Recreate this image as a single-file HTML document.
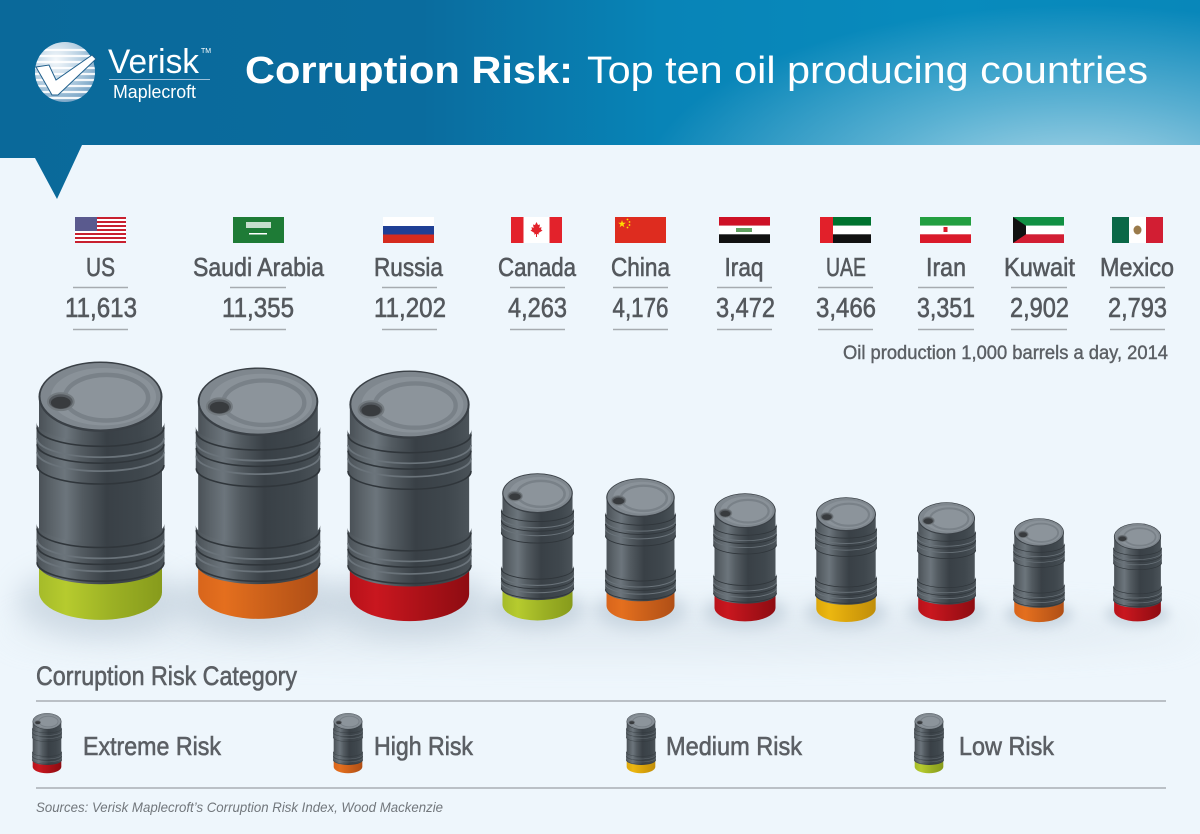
<!DOCTYPE html>
<html><head><meta charset="utf-8"><style>
html,body{margin:0;padding:0;background:#eef6fc;}
svg{display:block;}
text{font-family:"Liberation Sans",Arial,sans-serif;}
</style></head><body>
<svg width="1200" height="834" viewBox="0 0 1200 834" xmlns="http://www.w3.org/2000/svg">
<defs>
<linearGradient id="hdr" x1="0" y1="0" x2="1" y2="0">
<stop offset="0" stop-color="#0a699a"/><stop offset="0.35" stop-color="#0a6c9e"/><stop offset="0.55" stop-color="#0884b7"/><stop offset="0.8" stop-color="#088bbd"/><stop offset="1" stop-color="#0887ba"/>
</linearGradient>
<radialGradient id="hdrGlow" cx="1080" cy="190" r="440" gradientUnits="userSpaceOnUse" gradientTransform="translate(1080 190) scale(1 0.42) translate(-1080 -190)">
<stop offset="0" stop-color="#ffffff" stop-opacity="0.7"/><stop offset="0.5" stop-color="#ffffff" stop-opacity="0.33"/><stop offset="1" stop-color="#ffffff" stop-opacity="0"/>
</radialGradient>
<radialGradient id="globe" cx="0.35" cy="0.3" r="0.8">
<stop offset="0" stop-color="#f4f8fb"/><stop offset="0.5" stop-color="#b9d1e3"/><stop offset="1" stop-color="#6f9ec2"/>
</radialGradient>
<clipPath id="gclip"><circle cx="65" cy="72" r="30"/></clipPath>
<linearGradient id="gB" x1="0" y1="0" x2="1" y2="0">
<stop offset="0" stop-color="#4a5157"/><stop offset="0.1" stop-color="#5b6369"/><stop offset="0.22" stop-color="#6c757c"/><stop offset="0.35" stop-color="#535b61"/><stop offset="0.55" stop-color="#394046"/><stop offset="0.82" stop-color="#3f474d"/><stop offset="1" stop-color="#4b5359"/>
</linearGradient>
<linearGradient id="gGreen" x1="0" y1="0" x2="1" y2="0">
<stop offset="0" stop-color="#a5bb2a"/><stop offset="0.22" stop-color="#b6cb2e"/><stop offset="0.6" stop-color="#9bb024"/><stop offset="1" stop-color="#879b1c"/>
</linearGradient>
<linearGradient id="gOrange" x1="0" y1="0" x2="1" y2="0">
<stop offset="0" stop-color="#d8651c"/><stop offset="0.22" stop-color="#e46f1e"/><stop offset="0.6" stop-color="#c95f1a"/><stop offset="1" stop-color="#b04f16"/>
</linearGradient>
<linearGradient id="gRed" x1="0" y1="0" x2="1" y2="0">
<stop offset="0" stop-color="#b8121a"/><stop offset="0.22" stop-color="#c9171f"/><stop offset="0.6" stop-color="#ab1118"/><stop offset="1" stop-color="#8e0c12"/>
</linearGradient>
<linearGradient id="gYellow" x1="0" y1="0" x2="1" y2="0">
<stop offset="0" stop-color="#dca70c"/><stop offset="0.22" stop-color="#ecb710"/><stop offset="0.6" stop-color="#d7a10b"/><stop offset="1" stop-color="#c08e0a"/>
</linearGradient>
<filter id="blur" x="-60%" y="-100%" width="220%" height="300%"><feGaussianBlur stdDeviation="14"/></filter>
<filter id="blurBig" x="-20%" y="-200%" width="140%" height="500%"><feGaussianBlur stdDeviation="18"/></filter>

<g id="shadow"><ellipse cx="0" cy="242" rx="85" ry="34" fill="#9fb1c1" opacity="0.38" filter="url(#blur)"/></g>

<g id="body">
<path d="M-62,36 L-62,206 A62,19 0 0 0 62,206 L62,36 Z" fill="url(#gB)"/>
<path d="M-64.5,62 A64.5,19 0 0 0 64.5,62 L64.5,106 A64.5,19 0 0 1 -64.5,106 Z" fill="url(#gB)"/>
<path d="M-64.5,164 A64.5,19 0 0 0 64.5,164 L64.5,204 A64.5,19 0 0 1 -64.5,204 Z" fill="url(#gB)"/>
<g fill="none" stroke="#6a737a" stroke-width="1.8">
<path d="M-64,78 A64,19 0 0 0 64,78"/><path d="M-64,92 A64,19 0 0 0 64,92"/>
<path d="M-64,180 A64,19 0 0 0 64,180"/><path d="M-64,193 A64,19 0 0 0 64,193"/>
</g>
<g fill="none" stroke="#30363b" stroke-width="1.6">
<path d="M-64,67 A64,19 0 0 0 64,67"/><path d="M-64,84 A64,19 0 0 0 64,84"/><path d="M-64,105 A64,19 0 0 0 64,105"/>
<path d="M-64,169 A64,19 0 0 0 64,169"/><path d="M-64,186 A64,19 0 0 0 64,186"/><path d="M-64,203 A64,19 0 0 0 64,203"/>
</g>
<ellipse cx="0" cy="36" rx="62.5" ry="35.5" fill="#3a4046"/>
<ellipse cx="0" cy="35.5" rx="60.5" ry="33.5" fill="#7f878e"/>
<ellipse cx="3" cy="36" rx="53" ry="29" fill="#8a9299"/>
<ellipse cx="6" cy="37" rx="42" ry="23" fill="#8c949b" stroke="#798188" stroke-width="4.5"/>
<ellipse cx="-40" cy="41" rx="13" ry="8.5" fill="#555a5f" stroke="#737a7f" stroke-width="2"/>
<ellipse cx="-40" cy="42" rx="10" ry="6" fill="#383b3e"/>
</g>
<g id="bRed"><path d="M-62,196 L-62,233 A62,28 0 0 0 62,233 L62,196 Z" fill="url(#gRed)"/><use href="#body"/></g>
<g id="bGreen"><path d="M-62,196 L-62,233 A62,28 0 0 0 62,233 L62,196 Z" fill="url(#gGreen)"/><use href="#body"/></g>
<g id="bOrange"><path d="M-62,196 L-62,233 A62,28 0 0 0 62,233 L62,196 Z" fill="url(#gOrange)"/><use href="#body"/></g>
<g id="bYellow"><path d="M-62,196 L-62,233 A62,28 0 0 0 62,233 L62,196 Z" fill="url(#gYellow)"/><use href="#body"/></g>
</defs>

<!-- background -->
<rect width="1200" height="834" fill="#eef6fc"/>
<ellipse cx="600" cy="630" rx="600" ry="24" fill="#c8d4de" opacity="0.35" filter="url(#blurBig)"/>

<!-- header -->
<polygon points="0,0 1200,0 1200,145 82,145 57,199 35,158 0,158" fill="url(#hdr)"/>
<polygon points="0,0 1200,0 1200,145 82,145 57,199 35,158 0,158" fill="url(#hdrGlow)"/>

<!-- logo -->
<circle cx="65" cy="72" r="30" fill="url(#globe)"/>
<g clip-path="url(#gclip)" stroke="#ffffff" stroke-width="2.2" opacity="0.9">
<line x1="30" y1="50" x2="100" y2="50"/><line x1="30" y1="56" x2="100" y2="56"/><line x1="30" y1="62" x2="100" y2="62"/><line x1="30" y1="68" x2="100" y2="68"/><line x1="30" y1="74" x2="100" y2="74"/><line x1="30" y1="80" x2="100" y2="80"/><line x1="30" y1="86" x2="100" y2="86"/><line x1="30" y1="92" x2="100" y2="92"/><line x1="30" y1="98" x2="100" y2="98"/>
</g>
<polygon points="36,67 49,65 56,80 92,55 96,59 58,95 52,95" fill="#ffffff" stroke="#1f5f8c" stroke-width="1"/>
<text x="108" y="73" font-size="34" fill="#ffffff" textLength="91" lengthAdjust="spacingAndGlyphs">Verisk</text>
<text x="201" y="53" font-size="7" fill="#ffffff">TM</text>
<line x1="109" y1="79.5" x2="210" y2="79.5" stroke="#9cc0da" stroke-width="1"/>
<text x="113" y="98" font-size="18" fill="#ffffff" textLength="83" lengthAdjust="spacingAndGlyphs">Maplecroft</text>

<!-- title -->
<text x="245" y="83" font-size="38" font-weight="bold" fill="#ffffff" textLength="328" lengthAdjust="spacingAndGlyphs">Corruption Risk:</text>
<text x="587" y="83" font-size="38" fill="#ffffff" textLength="561" lengthAdjust="spacingAndGlyphs">Top ten oil producing countries</text>

<!-- flags -->
<g>
<rect x="75" y="217" width="51" height="26" fill="#ffffff"/>
<g fill="#c8202f">
<rect x="75" y="217" width="51" height="2"/><rect x="75" y="221" width="51" height="2"/><rect x="75" y="225" width="51" height="2"/><rect x="75" y="229" width="51" height="2"/><rect x="75" y="233" width="51" height="2"/><rect x="75" y="237" width="51" height="2"/><rect x="75" y="241" width="51" height="2"/>
</g>
<rect x="75" y="217" width="22" height="14" fill="#5a5a8e"/>
</g>
<rect x="233" y="217" width="51" height="26" fill="#1e7b36"/>
<rect x="246" y="222" width="25" height="6" fill="#ffffff" opacity="0.75"/>
<rect x="249" y="233" width="18" height="1.5" fill="#ffffff"/>
<rect x="383" y="217" width="51" height="9" fill="#ffffff"/>
<rect x="383" y="226" width="51" height="8.5" fill="#1f3f95"/>
<rect x="383" y="234.5" width="51" height="8.5" fill="#d52b1e"/>
<rect x="511" y="217" width="51" height="26" fill="#ffffff"/>
<rect x="511" y="217" width="12.5" height="26" fill="#e3222b"/>
<rect x="549.5" y="217" width="12.5" height="26" fill="#e3222b"/>
<polygon points="536.5,222 538,225 540,224.5 539.3,228 541.5,227 541,229.5 542.5,230.5 538.5,233 539,234.5 537,234 537,237 536,237 536,234 534,234.5 534.5,233 530.5,230.5 532,229.5 531.5,227 533.7,228 533,224.5 535,225" fill="#e3222b"/>
<rect x="615" y="217" width="51" height="26" fill="#de2c1f"/>
<polygon points="622,220 622.9,222.76 625.8,222.76 623.46,224.47 624.35,227.24 622,225.53 619.65,227.24 620.54,224.47 618.2,222.76 621.1,222.76" fill="#ffde00"/>
<g fill="#ffde00"><circle cx="627.5" cy="219.5" r="0.9"/><circle cx="629.5" cy="222" r="0.9"/><circle cx="629.5" cy="225" r="0.9"/><circle cx="627.5" cy="227.5" r="0.9"/></g>
<rect x="719" y="217" width="51" height="8.7" fill="#ce1126"/>
<rect x="719" y="225.7" width="51" height="8.6" fill="#ffffff"/>
<rect x="719" y="234.3" width="51" height="8.7" fill="#111111"/>
<rect x="736" y="228" width="16" height="4" fill="#3a8a3a" opacity="0.8"/>
<rect x="820" y="217" width="51" height="8.7" fill="#00732f"/>
<rect x="820" y="225.7" width="51" height="8.6" fill="#ffffff"/>
<rect x="820" y="234.3" width="51" height="8.7" fill="#111111"/>
<rect x="820" y="217" width="13" height="26" fill="#e2202a"/>
<rect x="920" y="217" width="51" height="8.7" fill="#239f40"/>
<rect x="920" y="225.7" width="51" height="8.6" fill="#ffffff"/>
<rect x="920" y="234.3" width="51" height="8.7" fill="#da1a2a"/>
<rect x="943.5" y="227" width="4" height="5" fill="#da1a2a"/>
<rect x="1013" y="217" width="51" height="8.7" fill="#119043"/>
<rect x="1013" y="225.7" width="51" height="8.6" fill="#ffffff"/>
<rect x="1013" y="234.3" width="51" height="8.7" fill="#d21e33"/>
<polygon points="1013,217 1026,225.7 1026,234.3 1013,243" fill="#111111"/>
<rect x="1112" y="217" width="17" height="26" fill="#0a6847"/>
<rect x="1129" y="217" width="17" height="26" fill="#ffffff"/>
<rect x="1146" y="217" width="17" height="26" fill="#d21e33"/>
<ellipse cx="1137.5" cy="230" rx="4" ry="4.5" fill="#9a7a4a"/>

<!-- names -->
<g font-size="26" fill="#54585d" stroke="#54585d" stroke-width="0.6" text-anchor="middle">
<text x="100.5" y="276" textLength="29" lengthAdjust="spacingAndGlyphs">US</text>
<text x="258.5" y="276" textLength="131" lengthAdjust="spacingAndGlyphs">Saudi Arabia</text>
<text x="408.5" y="276" textLength="69" lengthAdjust="spacingAndGlyphs">Russia</text>
<text x="537" y="276" textLength="78" lengthAdjust="spacingAndGlyphs">Canada</text>
<text x="640.5" y="276" textLength="59" lengthAdjust="spacingAndGlyphs">China</text>
<text x="744" y="276" textLength="39" lengthAdjust="spacingAndGlyphs">Iraq</text>
<text x="846" y="276" textLength="40" lengthAdjust="spacingAndGlyphs">UAE</text>
<text x="946" y="276" textLength="40" lengthAdjust="spacingAndGlyphs">Iran</text>
<text x="1039.5" y="276" textLength="71" lengthAdjust="spacingAndGlyphs">Kuwait</text>
<text x="1137" y="276" textLength="74" lengthAdjust="spacingAndGlyphs">Mexico</text>
</g>
<!-- numbers -->
<g font-size="28" fill="#54585d" stroke="#54585d" stroke-width="0.6" text-anchor="middle">
<text x="101" y="317" textLength="72" lengthAdjust="spacingAndGlyphs">11,613</text>
<text x="258" y="317" textLength="72" lengthAdjust="spacingAndGlyphs">11,355</text>
<text x="410" y="317" textLength="72" lengthAdjust="spacingAndGlyphs">11,202</text>
<text x="537.5" y="317" textLength="59" lengthAdjust="spacingAndGlyphs">4,263</text>
<text x="640.5" y="317" textLength="56" lengthAdjust="spacingAndGlyphs">4,176</text>
<text x="745.5" y="317" textLength="59" lengthAdjust="spacingAndGlyphs">3,472</text>
<text x="846" y="317" textLength="60" lengthAdjust="spacingAndGlyphs">3,466</text>
<text x="946" y="317" textLength="58" lengthAdjust="spacingAndGlyphs">3,351</text>
<text x="1039.5" y="317" textLength="59" lengthAdjust="spacingAndGlyphs">2,902</text>
<text x="1137.5" y="317" textLength="59" lengthAdjust="spacingAndGlyphs">2,793</text>
</g>
<g stroke="#a6abb0" stroke-width="1.5">
<line x1="73" y1="287.5" x2="128" y2="287.5"/><line x1="73" y1="329.5" x2="128" y2="329.5"/>
<line x1="230" y1="287.5" x2="286" y2="287.5"/><line x1="230" y1="329.5" x2="286" y2="329.5"/>
<line x1="382" y1="287.5" x2="437" y2="287.5"/><line x1="382" y1="329.5" x2="437" y2="329.5"/>
<line x1="510" y1="287.5" x2="565" y2="287.5"/><line x1="510" y1="329.5" x2="565" y2="329.5"/>
<line x1="613" y1="287.5" x2="668" y2="287.5"/><line x1="613" y1="329.5" x2="668" y2="329.5"/>
<line x1="717" y1="287.5" x2="772" y2="287.5"/><line x1="717" y1="329.5" x2="772" y2="329.5"/>
<line x1="818" y1="287.5" x2="873" y2="287.5"/><line x1="818" y1="329.5" x2="873" y2="329.5"/>
<line x1="918" y1="287.5" x2="974" y2="287.5"/><line x1="918" y1="329.5" x2="974" y2="329.5"/>
<line x1="1011" y1="287.5" x2="1067" y2="287.5"/><line x1="1011" y1="329.5" x2="1067" y2="329.5"/>
<line x1="1110" y1="287.5" x2="1165" y2="287.5"/><line x1="1110" y1="329.5" x2="1165" y2="329.5"/>
</g>
<text x="1168" y="359" font-size="19" fill="#5b5f64" stroke="#5b5f64" stroke-width="0.4" text-anchor="end" textLength="325" lengthAdjust="spacingAndGlyphs">Oil production 1,000 barrels a day, 2014</text>

<!-- barrel shadows -->
<use href="#shadow" transform="translate(100.5 361) scale(0.992)"/>
<use href="#shadow" transform="translate(258 367) scale(0.965)"/>
<use href="#shadow" transform="translate(409.5 370) scale(0.962)"/>
<use href="#shadow" transform="translate(537.5 473) scale(0.565)"/>
<use href="#shadow" transform="translate(640.5 478) scale(0.548)"/>
<use href="#shadow" transform="translate(745 493) scale(0.492)"/>
<use href="#shadow" transform="translate(846 497) scale(0.479)"/>
<use href="#shadow" transform="translate(946.5 502) scale(0.456)"/>
<use href="#shadow" transform="translate(1039 518) scale(0.399)"/>
<use href="#shadow" transform="translate(1137.5 523) scale(0.377)"/>

<!-- barrels -->
<use href="#bGreen" transform="translate(100.5 361) scale(0.992)"/>
<use href="#bOrange" transform="translate(258 367) scale(0.965)"/>
<use href="#bRed" transform="translate(409.5 370) scale(0.962)"/>
<use href="#bGreen" transform="translate(537.5 473) scale(0.565)"/>
<use href="#bOrange" transform="translate(640.5 478) scale(0.548)"/>
<use href="#bRed" transform="translate(745 493) scale(0.492)"/>
<use href="#bYellow" transform="translate(846 497) scale(0.479)"/>
<use href="#bRed" transform="translate(946.5 502) scale(0.456)"/>
<use href="#bOrange" transform="translate(1039 518) scale(0.399)"/>
<use href="#bRed" transform="translate(1137.5 523) scale(0.377)"/>

<!-- legend -->
<text x="36" y="685" font-size="27" fill="#5b5f64" stroke="#5b5f64" stroke-width="0.6" textLength="261" lengthAdjust="spacingAndGlyphs">Corruption Risk Category</text>
<line x1="36" y1="701" x2="1166" y2="701" stroke="#a9aeb3" stroke-width="1.5"/>
<line x1="36" y1="788" x2="1166" y2="788" stroke="#a9aeb3" stroke-width="1.5"/>

<use href="#bRed" transform="translate(47 713) scale(0.231)"/>
<use href="#bOrange" transform="translate(348 713) scale(0.231)"/>
<use href="#bYellow" transform="translate(641 713) scale(0.231)"/>
<use href="#bGreen" transform="translate(929 713) scale(0.231)"/>

<g font-size="26" fill="#5b5f64" stroke="#5b5f64" stroke-width="0.6">
<text x="83" y="755" textLength="138" lengthAdjust="spacingAndGlyphs">Extreme Risk</text>
<text x="374" y="755" textLength="99" lengthAdjust="spacingAndGlyphs">High Risk</text>
<text x="666" y="755" textLength="136" lengthAdjust="spacingAndGlyphs">Medium Risk</text>
<text x="959" y="755" textLength="95" lengthAdjust="spacingAndGlyphs">Low Risk</text>
</g>

<text x="36" y="812" font-size="14" font-style="italic" fill="#72777c" textLength="407" lengthAdjust="spacingAndGlyphs">Sources: Verisk Maplecroft’s Corruption Risk Index, Wood Mackenzie</text>
</svg>
</body></html>
